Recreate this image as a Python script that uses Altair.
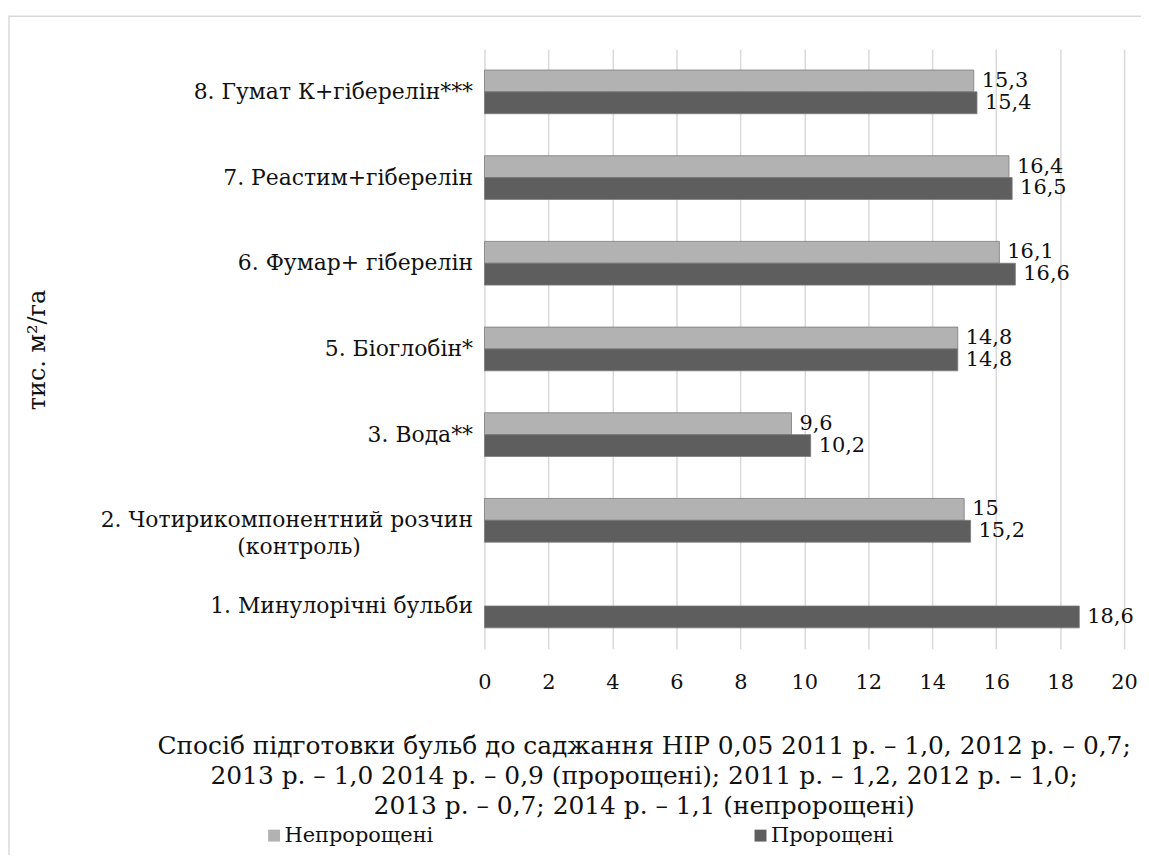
import altair as alt
import pandas as pd

categories = [
    "8. Гумат К+гіберелін***",
    "7. Реастим+гіберелін",
    "6. Фумар+ гіберелін",
    "5. Біоглобін*",
    "3. Вода**",
    "2. Чотирикомпонентний розчин|(контроль)",
    "1. Минулорічні бульби",
]
series = ["Непророщені", "Пророщені"]
nepro = [15.3, 16.4, 16.1, 14.8, 9.6, 15.0, None]
pro = [15.4, 16.5, 16.6, 14.8, 10.2, 15.2, 18.6]
x_ticks = [0, 2, 4, 6, 8, 10, 12, 14, 16, 18, 20]
colors = ["#b2b2b2", "#5e5e5e"]

rows = []
for c, a, b in zip(categories, nepro, pro):
    if a is not None:
        rows.append({"cat": c, "series": series[0], "value": a})
    if b is not None:
        rows.append({"cat": c, "series": series[1], "value": b})
df = pd.DataFrame(rows)

FONT = "DejaVu Serif"
FS_CAT = 22
FS_NUM = 21
TXT = "#111111"
BLANK = "\u2800"

y_enc = alt.Y(
    "cat:N",
    sort=categories,
    scale=alt.Scale(paddingInner=0.49, paddingOuter=0.245),
    axis=alt.Axis(
        title="тис. м²/га",
        titleFont=FONT,
        titleFontSize=24,
        titleFontWeight="normal",
        titleColor=TXT,
        titleX=-449,
        titleY=302,
        titleAngle=-90,
        titleAlign="center",
        titleBaseline="middle",
        labelFont=FONT,
        labelFontSize=FS_CAT,
        labelColor=TXT,
        labelPadding=12,
        labelLimit=600,
        labelLineHeight=27,
        labelExpr="indexof(datum.label, '|') > 0 ? [split(datum.label, '|')[0], pad(split(datum.label, '|')[1], 17, '" + BLANK + "')] : datum.label",
        ticks=False,
        domain=False,
        grid=False,
    ),
)
yoff = alt.YOffset("series:N", sort=series, scale=alt.Scale(domain=series, paddingInner=0, paddingOuter=0))

x_enc = alt.X(
    "value:Q",
    scale=alt.Scale(domain=[0, 20], nice=False),
    axis=alt.Axis(
        values=x_ticks,
        title=[
            "Спосіб підготовки бульб до саджання НІР 0,05 2011 р. – 1,0, 2012 р. – 0,7;",
            "2013 р. – 1,0 2014 р. – 0,9 (пророщені); 2011 р. – 1,2, 2012 р. – 1,0;",
            "2013 р. – 0,7; 2014 р. – 1,1 (непророщені)",
        ],
        titleFont=FONT,
        titleFontSize=25,
        titleFontWeight="normal",
        titleColor=TXT,
        titleX=160,
        titleY=85,
        titleAlign="center",
        titleBaseline="top",
        titleLineHeight=30.5,
        titleLimit=1200,
        labelFont=FONT,
        labelFontSize=FS_NUM,
        labelColor=TXT,
        labelPadding=23,
        labelFlush=False,
        ticks=False,
        tickSize=0,
        domain=False,
        grid=True,
        gridColor="#d9d9d9",
        gridWidth=1.5,
    ),
)

color_enc = alt.Color(
    "series:N",
    sort=series,
    scale=alt.Scale(domain=series, range=colors),
    legend=alt.Legend(
        title=None,
        orient="none",
        legendX=-235,
        legendY=780,
        direction="horizontal",
        columns=2,
        columnPadding=305,
        symbolType="square",
        symbolSize=144,
        symbolStrokeWidth=0,
        symbolOffset=13,
        labelFont=FONT,
        labelFontSize=21,
        labelColor=TXT,
        labelOffset=0,
        labelLimit=400,
    ),
)

base = alt.Chart(df)

bars = base.mark_bar(stroke="#7a7a7a", strokeWidth=0.8).encode(
    x=x_enc, y=y_enc, yOffset=yoff, color=color_enc
)

labels = base.transform_calculate(
    lbl="replace(toString(datum.value), '.', ',')"
).mark_text(align="left", baseline="middle", dx=8, font=FONT, fontSize=FS_NUM, color=TXT).encode(
    x=alt.X("value:Q"), y=alt.Y("cat:N", sort=categories), yOffset=yoff, text="lbl:N"
)

border = alt.Chart(pd.DataFrame({"a": [0]})).mark_rect(
    filled=False, stroke="#d9d9d9", strokeWidth=1.5
).encode(
    x=alt.value(-478), y=alt.value(-33), x2=alt.value(2000), y2=alt.value(2000)
)

chart = alt.layer(border, bars, labels).properties(
    width=643,
    height=603,
    padding={"left": 479, "top": 39, "right": 17, "bottom": 205},
    autosize=alt.AutoSizeParams(type="none"),
).configure_view(stroke=None)

chart.save("out.html", embed_options={"renderer": "svg", "actions": False})
